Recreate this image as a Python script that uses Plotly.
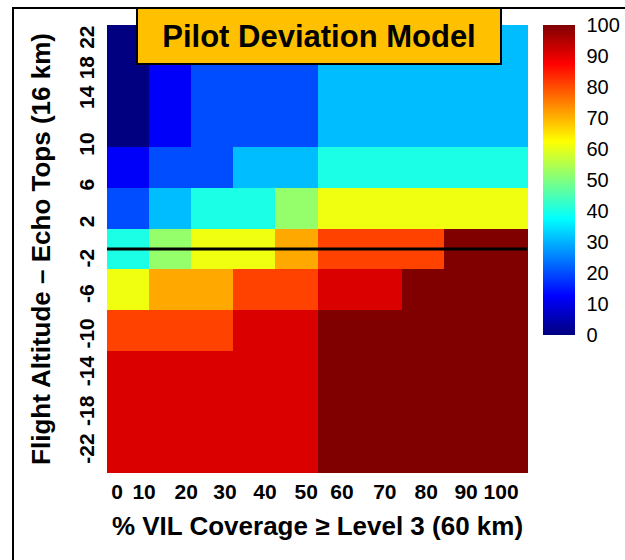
import plotly.graph_objects as go

# ---- data ----
X_CENTERS = [5, 15, 25, 35, 45, 55, 65, 75, 85, 95]          # % VIL coverage bins
Y_CENTERS = [20, 16, 12, 8, 4, 0, -4, -8, -12, -16, -20]     # flight altitude - echo tops bins
Z = [
    [0, 12, 20, 20, 20, 31, 31, 31, 31, 31],
    [0, 12, 20, 20, 20, 31, 31, 31, 31, 31],
    [0, 12, 20, 20, 20, 31, 31, 31, 31, 31],
    [12, 20, 20, 31, 31, 40, 40, 40, 40, 40],
    [20, 31, 40, 40, 52, 61, 61, 61, 61, 61],
    [40, 52, 61, 61, 71, 81, 81, 81, 100, 100],
    [61, 71, 71, 81, 81, 91, 91, 100, 100, 100],
    [81, 81, 81, 91, 91, 100, 100, 100, 100, 100],
    [91, 91, 91, 91, 91, 100, 100, 100, 100, 100],
    [91, 91, 91, 91, 91, 100, 100, 100, 100, 100],
    [91, 91, 91, 91, 91, 100, 100, 100, 100, 100],
]
X_TICK_LABELS = ["0", "10", "20", "30", "40", "50", "60", "70", "80", "90", "100"]
Y_TICK_LABELS = ["22", "18", "14", "10", "6", "2", "-2", "-6", "-10", "-14", "-18", "-22"]
CBAR_TICKS = [0, 10, 20, 30, 40, 50, 60, 70, 80, 90, 100]
REF_LINE_Y = 0

# ---- layout helpers (label placement as in the original figure) ----
X_TICK_POS = [2.4, 8.8, 18.8, 28.0, 37.5, 47.3, 55.8, 66.0, 75.8, 85.3, 93.6]
Y_TICK_POS = [20.5, 17.5, 14.6, 10.0, 6.0, 2.4, -1.2, -4.7, -8.6, -12.3, -16.2, -19.9]

JET = [
    [0.0, "rgb(0,0,128)"],
    [0.125, "rgb(0,0,255)"],
    [0.375, "rgb(0,255,255)"],
    [0.625, "rgb(255,255,0)"],
    [0.875, "rgb(255,0,0)"],
    [1.0, "rgb(128,0,0)"],
]

FONT = "Liberation Sans, Arial, sans-serif"

fig = go.Figure()
fig.add_trace(go.Heatmap(
    x=X_CENTERS, y=Y_CENTERS, z=Z,
    zmin=0, zmax=100, colorscale=JET,
    colorbar=dict(
        thickness=32, len=310, lenmode="pixels",
        y=1, yanchor="top", x=1.0356, xanchor="left", xpad=0, ypad=0,
        outlinewidth=0,
        tickvals=CBAR_TICKS, ticks="outside", ticklen=8,
        tickcolor="rgba(0,0,0,0)",
        tickfont=dict(family=FONT, size=20, color="black"),
    ),
    hoverinfo="skip",
))

W, H = 625, 560
L, R, T, B = 107, 97, 25, 87
pw, ph = W - L - R, H - T - B

def px_to_paper_x(px):
    return (px - L) / pw

def px_to_paper_y(py):
    return (H - B - py) / ph

TOP_PX = 8

shapes = [
    dict(type="line", xref="x", yref="y", x0=-0.5, x1=99.8, y0=REF_LINE_Y, y1=REF_LINE_Y,
         line=dict(color="black", width=3)),
    # outer frame edges
    dict(type="line", xref="paper", yref="paper",
         x0=px_to_paper_x(13), x1=px_to_paper_x(13),
         y0=px_to_paper_y(TOP_PX), y1=px_to_paper_y(H + 10),
         line=dict(color="black", width=2), layer="above"),
    dict(type="line", xref="paper", yref="paper",
         x0=px_to_paper_x(12), x1=px_to_paper_x(W + 10),
         y0=px_to_paper_y(TOP_PX), y1=px_to_paper_y(TOP_PX),
         line=dict(color="black", width=2), layer="above"),
]

fig.update_layout(
    width=W, height=H,
    margin=dict(l=L, r=R, t=T, b=B, pad=0, autoexpand=False),
    paper_bgcolor="white", plot_bgcolor="white",
    font=dict(family=FONT, color="black"),
    shapes=shapes,
    annotations=[dict(
        text="<b>Pilot Deviation Model</b>",
        xref="paper", yref="paper",
        x=px_to_paper_x(319), y=px_to_paper_y(36),
        xanchor="center", yanchor="middle",
        showarrow=False,
        font=dict(family=FONT, size=31, color="black"),
        bgcolor="#FFC000", bordercolor="black", borderwidth=2, borderpad=0,
        width=362, height=54,
    )],
    xaxis=dict(
        range=[0, 100], showgrid=False, zeroline=False, showline=False,
        ticks="", tickvals=X_TICK_POS, ticktext=X_TICK_LABELS,
        tickfont=dict(family=FONT, size=21, weight="bold"),
        ticklabelstandoff=4,
        title=dict(text="% VIL Coverage ≥ Level 3 (60 km)",
                   font=dict(family=FONT, size=26, weight="bold"), standoff=14),
    ),
    yaxis=dict(
        range=[-22, 22], showgrid=False, zeroline=False, showline=False,
        ticks="", tickvals=Y_TICK_POS, ticktext=Y_TICK_LABELS, tickangle=-90,
        tickfont=dict(family=FONT, size=21, weight="bold"),
        ticklabelstandoff=8,
        title=dict(text="Flight Altitude – Echo Tops (16 km)",
                   font=dict(family=FONT, size=26, weight="bold"), standoff=16),
    ),
)

fig.write_html("out.html", config={"displayModeBar": False},
               post_script="document.body.style.margin='0';")
